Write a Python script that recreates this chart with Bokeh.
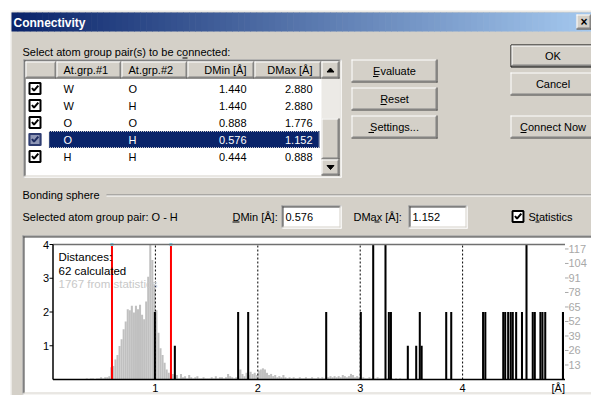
import numpy as np
from bokeh.plotting import figure
from bokeh.models import Range1d
from bokeh.core.properties import value
from bokeh.embed import file_html
from bokeh.resources import INLINE

# ---------------- data ----------------
grp1 = ["W", "W", "O", "O", "H"]
grp2 = ["O", "H", "O", "H", "H"]
dmin_vals = [1.440, 1.440, 0.888, 0.576, 0.444]
dmax_vals = [2.880, 2.880, 1.776, 1.152, 0.888]
selected_row = 3
headers = ["At.grp.#1", "At.grp.#2", "DMin [Å]", "DMax [Å]"]

sel_pair = "O - H"
sel_dmin = 0.576
sel_dmax = 1.152
n_calculated = 62
n_statistics = 1767

# statistics histogram (right axis), bins of 0.02 Å starting at 0.30 Å
stat_first_edge = 0.30
stat_bin_width = 0.02
stat_counts = [
    0, 1, 0, 1, 1, 0, 1, 1, 2, 1, 2, 2, 3, 11, 12, 18, 22, 30, 36, 45,
    52, 63, 62, 66, 60, 66, 63, 67, 58, 54, 70, 92, 121, 107, 85, 62, 42, 28, 22, 15,
    9, 6, 3, 5, 2, 4, 1, 5, 2, 3, 1, 4, 2, 1, 2, 3, 1, 1, 2, 1,
    1, 1, 2, 1, 3, 1, 2, 2, 1, 2, 5, 3, 2, 1, 2, 3, 9, 5, 3, 6,
    4, 7, 5, 6, 4, 8, 9, 10, 9, 6, 4, 5, 3, 4, 2, 3, 2, 4, 2, 1,
    2, 1, 2, 1, 1, 2, 1, 1, 2, 1, 1, 2, 1, 1, 2, 1, 2, 1, 2, 2,
    3, 2, 3, 2, 3, 2, 4, 3, 2, 3, 5, 4, 2, 3, 2, 1, 2, 1, 1, 2,
    1, 1, 1, 2, 1, 1, 1, 1, 1, 2, 1, 0, 1, 0, 1,
]

# calculated distances (left axis)
calc_dist = [0.995, 1.19, 1.808, 1.906, 2.668, 3.006, 3.127, 3.247, 3.28, 3.30,
             3.465, 3.547, 3.582, 3.60, 3.84, 3.889, 4.20, 4.222, 4.397, 4.416,
             4.445, 4.47, 4.49, 4.523, 4.58, 4.624, 4.685, 4.705, 4.76, 4.78,
             4.807, 4.98]
calc_count = [2, 1, 2, 2, 2, 2, 4, 4, 2, 2,
              1, 1, 2, 1, 2, 2, 2, 2, 2, 2,
              2, 2, 2, 2, 2, 4, 2, 2, 2, 2,
              2, 2]

x_ticks = [1, 2, 3, 4]
left_ticks = [1, 2, 3, 4]
right_ticks = [13, 26, 39, 52, 65, 78, 91, 104, 117]
x_max = 5.0
left_max = 4.0
right_max = 121.0

# ---------------- figure (screen-like coordinates) ----------------
FX0, FX1, FY0, FY1 = 0, 591, 0, 395
# chart plot area inside the dialog
PL, PR, PT, PB = 52.5, 564.5, 244.0, 379.0

sx = (PR - PL) / x_max
syl = (PB - PT) / left_max
syr = (PB - PT) / right_max

p = figure(width=FX1 - FX0, height=FY1 - FY0,
           x_range=Range1d(start=FX0, end=FX1), y_range=Range1d(start=FY1, end=FY0),
           output_backend="svg", toolbar_location=None, min_border=0,
           x_axis_location=None, y_axis_location=None)
p.grid.visible = False
p.outline_line_color = None
p.background_fill_color = "white"
p.border_fill_color = "white"
p.extra_x_ranges = {"dist": Range1d(start=(FX0 - PL) / sx, end=(FX1 - PL) / sx)}
p.extra_y_ranges = {
    "cl": Range1d(start=(PB - FY1) / syl, end=(PB - FY0) / syl),
    "cr": Range1d(start=(PB - FY1) / syr, end=(PB - FY0) / syr),
}

FACE = "#D4D0C8"
FONT = value("Liberation Sans")


def txt(x, y, s, color="black", align="left", size="11px", bold=False, font=FONT, **kw):
    p.text(x=[x], y=[y], text=[s], text_color=color, text_align=align,
           text_baseline="middle", text_font=font, text_font_size=value(size),
           text_font_style="bold" if bold else "normal", **kw)


def box(l, r, t, b, fill, line=None, **kw):
    p.quad(left=[l], right=[r], top=[t], bottom=[b], fill_color=fill, line_color=line, **kw)


def seg(x0, y0, x1, y1, color, w=1, **kw):
    p.segment(x0=[x0], y0=[y0], x1=[x1], y1=[y1], line_color=color, line_width=w, **kw)


def raised(l, t, r, b, default=False):
    box(l, r, t, b, FACE)
    if default:
        p.quad(left=[l + 0.5], right=[r - 0.5], top=[t + 0.5], bottom=[b - 0.5],
               fill_color=None, line_color="black", line_width=1)
        l, t, r, b = l + 1, t + 1, r - 1, b - 1
    seg(l, t + 0.5, r - 1, t + 0.5, "white")
    seg(l + 0.5, t, l + 0.5, b - 1, "white")
    seg(l, b - 0.5, r, b - 0.5, "#404040")
    seg(r - 0.5, t, r - 0.5, b, "#404040")
    seg(l + 1, b - 1.5, r - 1, b - 1.5, "#808080")
    seg(r - 1.5, t + 1, r - 1.5, b - 1, "#808080")


def sunken(l, t, r, b, fill="white"):
    box(l, r, t, b, fill)
    seg(l, t + 0.5, r, t + 0.5, "#808080")
    seg(l + 0.5, t, l + 0.5, b, "#808080")
    seg(l + 1, t + 1.5, r - 1, t + 1.5, "#404040")
    seg(l + 1.5, t + 1, l + 1.5, b - 1, "#404040")
    seg(l, b - 0.5, r, b - 0.5, "white")
    seg(r - 0.5, t, r - 0.5, b, "white")
    seg(l + 1, b - 1.5, r - 1, b - 1.5, FACE)
    seg(r - 1.5, t + 1, r - 1.5, b - 1, FACE)


def checkbox(l, cy, fill="white", frame="black", mark="black"):
    t, b = cy - 6.5, cy + 6.5
    box(l, l + 13, t, b, fill)
    p.quad(left=[l + 1], right=[l + 12], top=[t + 1], bottom=[b - 1],
           fill_color=None, line_color=frame, line_width=2)
    p.line(x=[l + 3.5, l + 5.5, l + 9.8], y=[cy - 0.5, cy + 2.2, cy - 2.8],
           line_color=mark, line_width=2)


def button(l, t, r, b, label, ul=None, default=False, cx=None):
    raised(l, t, r, b, default)
    cy = (t + b) / 2
    txt((l + r) / 2 if cx is None else cx, cy, label, align="center")
    if ul:
        seg(ul[0], cy + 5.5, ul[1], cy + 5.5, "black")


# ---------------- dialog ----------------
box(10, 599, 10, 397, FACE)
seg(10.5, 10, 10.5, 397, "white")
seg(10, 10.5, 599, 10.5, "white")

# title bar gradient
n = 96
gx = np.linspace(11, 599, n + 1)
c0, c1 = (10, 36, 106), (166, 202, 240)
gcols = ["#%02x%02x%02x" % tuple(int(round(a + (b_ - a) * t)) for a, b_ in zip(c0, c1))
         for t in np.linspace(0, 1, n)]
p.quad(left=gx[:-1], right=gx[1:] + 0.6, top=12, bottom=31, fill_color=gcols, line_color=None)
txt(13, 22, "Connectivity", color="white", size="12px", bold=True)
raised(576, 14, 591, 29)
txt(583.5, 21.5, "×", size="12px", bold=True, align="center")

# list box
txt(22, 51.5, "Select atom group pair(s) to be connected:")
seg(182, 57.5, 187, 57.5, "black")
sunken(23, 59, 341, 177)
# header
hdr_edges = [25, 56, 121, 187, 254, 321]
for i in range(len(hdr_edges) - 1):
    raised(hdr_edges[i], 61, hdr_edges[i + 1], 78)
txt(63, 69.5, headers[0])
txt(128, 69.5, headers[1])
txt(246, 69.5, headers[2], align="right")
txt(312, 69.5, headers[3], align="right")

row_y = [88, 105, 122, 139, 156]
for i in range(len(grp1)):
    cy = row_y[i]
    col = "black"
    if i == selected_row:
        box(48.5, 319, cy - 8.5, cy + 8.5, "#0A246A")
        p.quad(left=[48.5], right=[318.5], top=[cy - 8], bottom=[cy + 8], fill_color=None,
               line_color="#C8C8C8", line_dash="1 1", line_width=1)
        col = "white"
        checkbox(28, cy, fill="#8F97B6", frame="#2E3C70", mark="#1E2C60")
    else:
        checkbox(28, cy)
    txt(63, cy, grp1[i], color=col)
    txt(128, cy, grp2[i], color=col)
    txt(246, cy, "%.3f" % dmin_vals[i], color=col, align="right")
    txt(312, cy, "%.3f" % dmax_vals[i], color=col, align="right")

# scrollbar
box(321, 339, 61, 175, "#ECEAE6")
raised(321, 61, 339, 78)
raised(321, 118, 339, 159)
raised(321, 159, 339, 175)
p.patch(x=[326.5, 333.5, 330], y=[71.5, 71.5, 67.5], fill_color="black", line_color="black")
p.patch(x=[326.5, 333.5, 330], y=[165, 165, 169], fill_color="black", line_color="black")

# middle buttons
button(351, 59, 437, 82, "Evaluate", ul=(372.5, 378))
button(351, 87, 437, 110, "Reset", ul=(380, 386))
button(351, 115, 437, 138, "Settings...", ul=(368, 373.5))

# right buttons
button(510, 44, 596, 67, "OK", default=True, cx=552.5)
button(510, 72, 596, 95, "Cancel", cx=552.5)
button(510, 115, 596, 138, "Connect Now", ul=(520, 526), cx=552.5)

# bonding sphere group
txt(22, 194.5, "Bonding sphere")
seg(106, 194.5, 598, 194.5, "#808080")
seg(106, 195.5, 598, 195.5, "white")
txt(22, 216, "Selected atom group pair: " + sel_pair)
txt(232, 216, "DMin [Å]:")
seg(232, 221.5, 239, 221.5, "black")
sunken(281, 205, 341, 228)
txt(285, 216.5, "%.3f" % sel_dmin)
txt(353, 216, "DMax [Å]:")
seg(374, 221.5, 379, 221.5, "black")
sunken(408, 205, 467, 228)
txt(412, 216.5, "%.3f" % sel_dmax)
checkbox(511, 216)
txt(528, 216, "Statistics")
seg(535, 221.5, 539, 221.5, "black")

# chart panel
sunken(22, 235, 598, 394)

# ---------------- chart ----------------
stat_x = [stat_first_edge + stat_bin_width * (i + 0.5) for i in range(len(stat_counts))]
p.vbar(x=stat_x, top=stat_counts, bottom=0, width=stat_bin_width,
       x_range_name="dist", y_range_name="cr", fill_color="#C0C0C0", line_color=None)

# dashed reference lines
p.segment(x0=x_ticks, y0=[0] * len(x_ticks), x1=x_ticks, y1=[left_max] * len(x_ticks),
          x_range_name="dist", y_range_name="cl", line_color="black", line_width=1,
          line_dash="2 2")

# calculated distances
p.vbar(x=calc_dist, top=calc_count, bottom=0, width=0.02,
       x_range_name="dist", y_range_name="cl", fill_color="black", line_color=None)

# DMin / DMax markers
p.segment(x0=[sel_dmin, sel_dmax], y0=[0, 0], x1=[sel_dmin, sel_dmax], y1=[left_max, left_max],
          x_range_name="dist", y_range_name="cl", line_color="#FF0000", line_width=2)
p.scatter(x=[sel_dmin, sel_dmax], y=[left_max, left_max], size=3, marker="square",
          x_range_name="dist", y_range_name="cl", fill_color="#7FD8F0", line_color=None)

# frame lines
p.segment(x0=[0], y0=[left_max], x1=[x_max], y1=[left_max], x_range_name="dist",
          y_range_name="cl", line_color="#707070", line_width=1.5)
p.segment(x0=[0], y0=[0], x1=[x_max], y1=[0], x_range_name="dist",
          y_range_name="cl", line_color="black", line_width=1.5)
p.segment(x0=[0], y0=[0], x1=[0], y1=[left_max], x_range_name="dist",
          y_range_name="cl", line_color="black", line_width=1.5)

# left axis ticks/labels
tick_len = 3.5 / sx
p.segment(x0=[-tick_len] * len(left_ticks), y0=left_ticks, x1=[0] * len(left_ticks), y1=left_ticks,
          x_range_name="dist", y_range_name="cl", line_color="black", line_width=1)
p.text(x=[-tick_len - 0.3 / sx] * len(left_ticks), y=left_ticks, text=[str(v) for v in left_ticks],
       x_range_name="dist", y_range_name="cl", text_align="right", text_baseline="middle",
       text_font=FONT, text_font_size=value("11px"), text_color="black")

# bottom labels
p.text(x=x_ticks, y=[-8.0 / syl] * len(x_ticks), text=[str(v) for v in x_ticks],
       x_range_name="dist", y_range_name="cl", text_align="center", text_baseline="middle",
       text_font=FONT, text_font_size=value("11px"), text_color="black")
p.text(x=[x_max], y=[-8.0 / syl], text=["[Å]"], x_range_name="dist", y_range_name="cl",
       text_align="right", text_baseline="middle", text_font=FONT,
       text_font_size=value("11px"), text_color="black")

# right axis ticks/labels (statistics)
p.segment(x0=[x_max] * len(right_ticks), y0=right_ticks, x1=[x_max + 3.5 / sx] * len(right_ticks),
          y1=right_ticks, x_range_name="dist", y_range_name="cr", line_color="#A8A8A8", line_width=1)
p.text(x=[x_max + 3.5 / sx] * len(right_ticks), y=right_ticks, text=[str(v) for v in right_ticks],
       x_range_name="dist", y_range_name="cr", text_align="left", text_baseline="middle",
       text_font=value("Liberation Sans Narrow, Liberation Sans"), text_font_size=value("11px"),
       text_color="#A8A8A8")

# legend text inside chart
txt(58, 256.5, "Distances:", size="11.5px")
txt(58, 270, "%d calculated" % n_calculated, size="11.5px")
txt(58, 283.5, "%d from statistics" % n_statistics, color="#C8C8C8", size="11.5px")

open("out.html", "w").write(file_html(p, INLINE))
